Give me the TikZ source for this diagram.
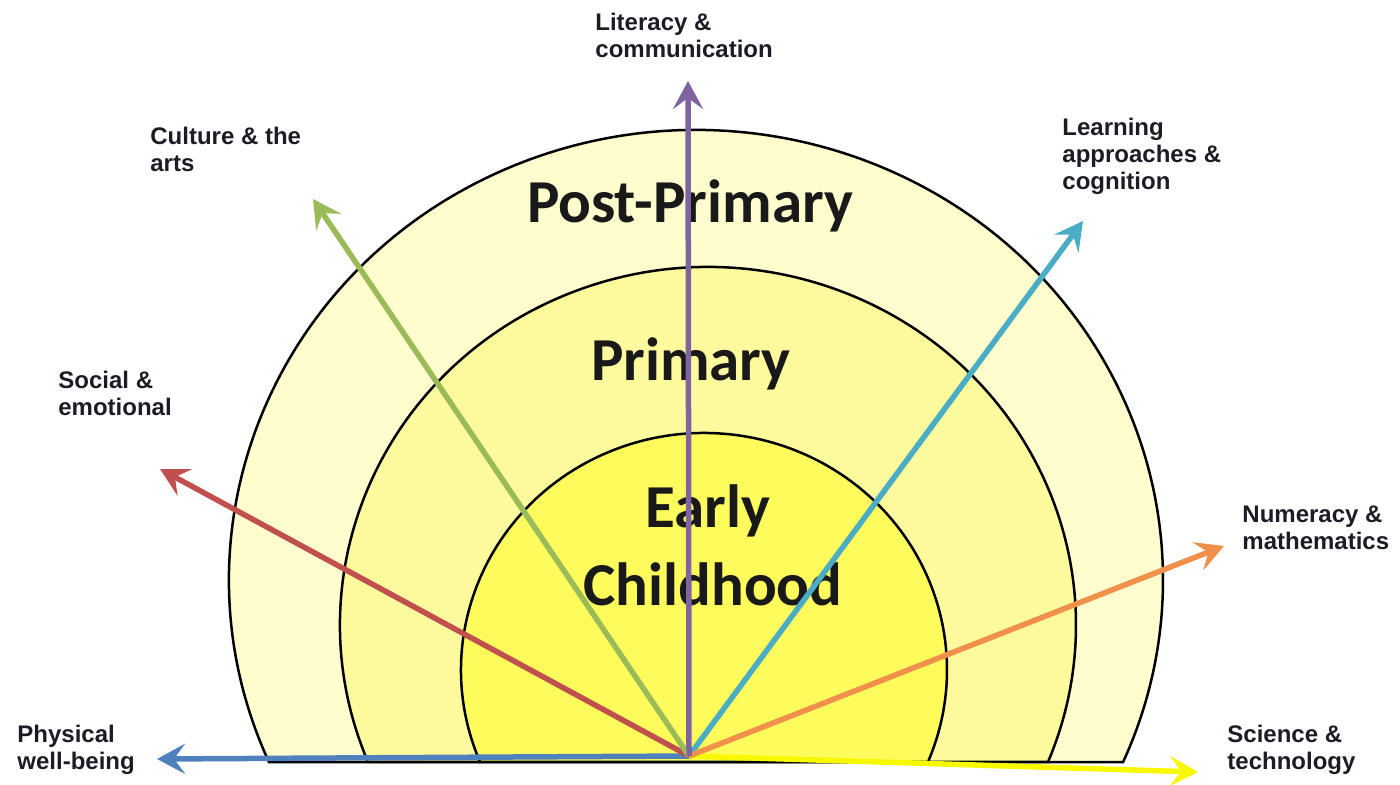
\documentclass[tikz,border=0pt]{standalone}
\usepackage{fontspec}
\setmainfont{Liberation Sans}
\newfontfamily\bandfont{Carlito}
\usetikzlibrary{arrows.meta}

\definecolor{outerfill}{HTML}{FFFDCE}
\definecolor{midfill}{HTML}{FDFA9E}
\definecolor{innerfill}{HTML}{FEFC5C}
\definecolor{cBlue}{HTML}{4F81BD}
\definecolor{cYellow}{HTML}{F8F800}
\definecolor{cOrange}{HTML}{F0904A}
\definecolor{cTeal}{HTML}{4BACC6}
\definecolor{cPurple}{HTML}{8064A2}
\definecolor{cGreen}{HTML}{9BBB59}
\definecolor{cRed}{HTML}{C0504D}
\definecolor{txt}{HTML}{1C1C26}

\tikzset{
  band/.style={draw=black, line width=1.25pt},
  ray/.style={line width=2.75pt, -{Stealth[length=14pt, width=15pt, inset=5.5pt]}},
  area/.style={font=\fontsize{12}{13.5}\selectfont\bfseries, text=txt,
               align=left, anchor=north west, inner sep=0pt},
  stage/.style={font=\bandfont\fontsize{30.5}{34}\selectfont\bfseries,
                text=black!90, anchor=base, inner sep=0pt}
}

\begin{document}
\begin{tikzpicture}[x=0.5pt, y=0.5pt]
\useasboundingbox (0,0) rectangle (1400,-785);

% nested half-ellipses standing on the base line
\filldraw[band, fill=outerfill, shift={(696,-580)}]
  (203.86:467 and 450) arc[start angle=203.86, end angle=-23.86, x radius=467, y radius=450] -- cycle;
\filldraw[band, fill=midfill, shift={(708,-625)}]
  (202.5:368 and 358) arc[start angle=202.5, end angle=-22.5, x radius=368, y radius=358] -- cycle;
\filldraw[band, fill=innerfill, shift={(704,-670)}]
  (202.84:243 and 237) arc[start angle=202.84, end angle=-22.84, x radius=243, y radius=237] -- cycle;

% stage names
\node[stage] (post) at (690,-223) {Post-Primary};
\node[stage] (prim) at (691,-380) {Primary};
\node[stage] (early) at (708,-527) {Early};
\node[stage] (child) at (713,-605) {Childhood};

% common origin and arrow ends
\coordinate (o) at (689,-756);
\coordinate (tPhys) at (157,-759);
\coordinate (tSoc) at (160,-469);
\coordinate (tCult) at (313,-199);
\coordinate (tLit) at (688,-81);
\coordinate (tLearn) at (1083,-221);
\coordinate (tNum) at (1224,-546);
\coordinate (tSci) at (1198,-772);

% developmental domains
\draw[ray, cYellow] (o) -- (tSci);
\draw[ray, cBlue] (o) -- (tPhys);
\draw[ray, cRed] (o) -- (tSoc);
\draw[ray, cGreen] (o) -- (tCult);
\draw[ray, cTeal] (o) -- (tLearn);
\draw[ray, cOrange] (o) -- (tNum);
\draw[ray, cPurple] (o) -- (tLit);

% domain labels
\node[area] (lit) at (595,-12.5) {Literacy \&\\communication};
\node[area] (cult) at (150,-126.5) {Culture \& the\\arts};
\node[area] (learn) at (1062,-117.5) {Learning\\approaches \&\\cognition};
\node[area] (soc) at (58,-370.5) {Social \&\\emotional};
\node[area] (num) at (1242,-505.5) {Numeracy \&\\mathematics};
\node[area] (phys) at (17,-724.5) {Physical\\well-being};
\node[area] (sci) at (1227,-724.5) {Science \&\\technology};
\end{tikzpicture}
\end{document}
